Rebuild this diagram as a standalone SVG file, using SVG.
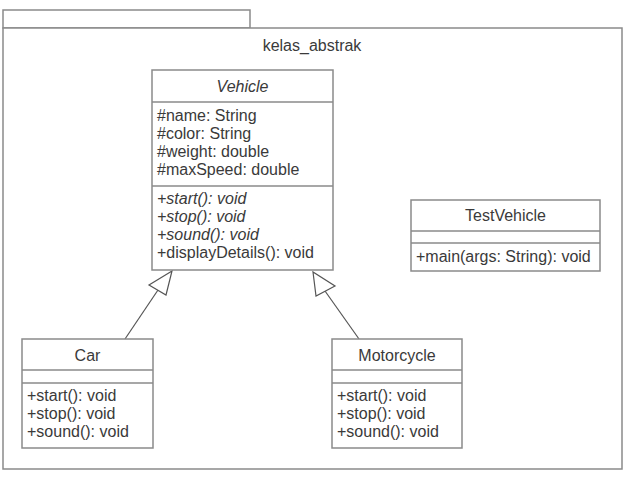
<svg xmlns="http://www.w3.org/2000/svg" width="637" height="485" viewBox="0 0 637 485">
<style>
.box{fill:#fff;stroke:#8a8a8a;stroke-width:1.5}
.ln{stroke:#8a8a8a;stroke-width:1.5;fill:none}
.t{font-family:"Liberation Sans",Arial,sans-serif;font-size:16px;fill:#3a3a3a}
.c{text-anchor:middle}
.i{font-style:italic}
.conn{stroke:#555;stroke-width:1.2;fill:none}
.head{fill:#fff;stroke:#555;stroke-width:1.2}
</style>
<rect width="637" height="485" fill="#fff"/>
<g id="package">
<rect class="box" x="3" y="10" width="247" height="18"/>
<rect class="box" x="3" y="28" width="619" height="441"/>
<text class="t c" x="312" y="51">kelas_abstrak</text>
</g>
<g id="connectors">
<line class="conn" x1="125" y1="339" x2="158" y2="290"/>
<polygon class="head" points="172,271 149,285 166,295"/>
<line class="conn" x1="359" y1="339" x2="325" y2="291"/>
<polygon class="head" points="313,272 316,296 335,286"/>
</g>
<g id="Vehicle">
<rect class="box" x="152" y="70" width="181" height="200"/>
<line class="ln" x1="152" y1="102" x2="333" y2="102"/>
<line class="ln" x1="152" y1="186" x2="333" y2="186"/>
<text class="t c i" x="242.5" y="92">Vehicle</text>
<text class="t" x="157" y="121">#name: String</text>
<text class="t" x="157" y="139">#color: String</text>
<text class="t" x="157" y="157">#weight: double</text>
<text class="t" x="157" y="175">#maxSpeed: double</text>
<text class="t i" x="157" y="204">+start(): void</text>
<text class="t i" x="157" y="222">+stop(): void</text>
<text class="t i" x="157" y="240">+sound(): void</text>
<text class="t" x="157" y="258">+displayDetails(): void</text>
</g>
<g id="TestVehicle">
<rect class="box" x="411" y="200" width="189" height="71"/>
<line class="ln" x1="411" y1="231" x2="600" y2="231"/>
<line class="ln" x1="411" y1="243" x2="600" y2="243"/>
<text class="t c" x="505.5" y="221">TestVehicle</text>
<text class="t" x="416" y="262">+main(args: String): void</text>
</g>
<g id="Car">
<rect class="box" x="22" y="339" width="131" height="109"/>
<line class="ln" x1="22" y1="370" x2="153" y2="370"/>
<line class="ln" x1="22" y1="383" x2="153" y2="383"/>
<text class="t c" x="87.5" y="361">Car</text>
<text class="t" x="27" y="401">+start(): void</text>
<text class="t" x="27" y="419">+stop(): void</text>
<text class="t" x="27" y="437">+sound(): void</text>
</g>
<g id="Motorcycle">
<rect class="box" x="332" y="339" width="130" height="109"/>
<line class="ln" x1="332" y1="370" x2="462" y2="370"/>
<line class="ln" x1="332" y1="383" x2="462" y2="383"/>
<text class="t c" x="397" y="361">Motorcycle</text>
<text class="t" x="337" y="401">+start(): void</text>
<text class="t" x="337" y="419">+stop(): void</text>
<text class="t" x="337" y="437">+sound(): void</text>
</g>
</svg>
